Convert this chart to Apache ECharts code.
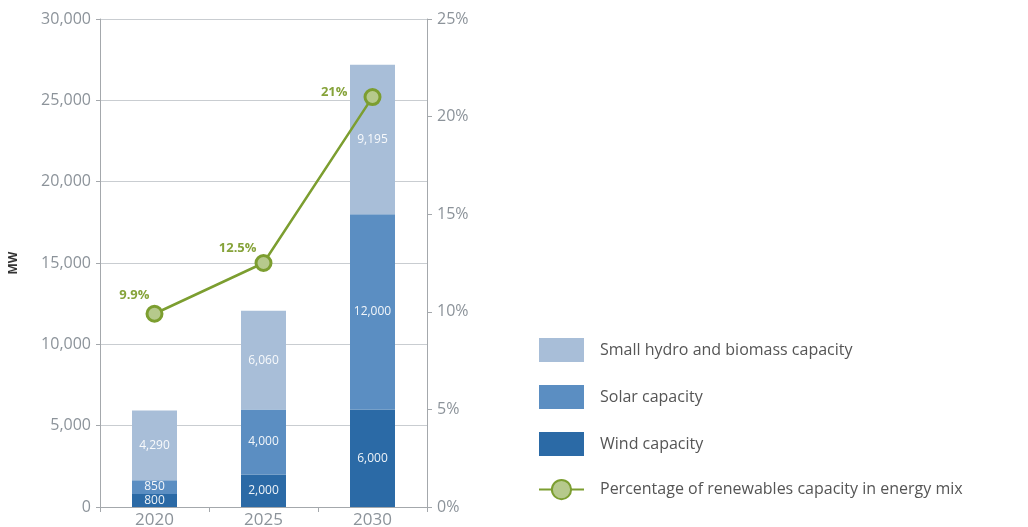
<!DOCTYPE html>
<html><head><meta charset="utf-8">
<script src="https://cdn.jsdelivr.net/npm/echarts@6/dist/echarts.min.js"></script>
<style>html,body{margin:0;padding:0;background:#fff}#c{width:1028px;height:527px}</style>
</head><body><div id="c"></div>
<script>
const years = ['2020', '2025', '2030'];
const wind = [800, 2000, 6000];
const solar = [850, 4000, 12000];
const hydro = [4290, 6060, 9195];
const renewablesPct = [9.9, 12.5, 21];
const pctLabels = ['9.9%', '12.5%', '21%'];
const leftTicks = [0, 5000, 10000, 15000, 20000, 25000, 30000];
const rightTicks = [0, 5, 10, 15, 20, 25];

const pctLabelOffsets = [[8, -18], [6, -15], [-12, -5]];

const font = '"Open Sans", Lato, sans-serif';
const axisGray = '#8c939a';
const chart = echarts.init(document.getElementById('c'));

function barSeries(name, data, color) {
  return {
    name, type: 'bar', stack: 'cap', data, barWidth: 45, yAxisIndex: 0,
    itemStyle: { color },
    label: { show: true, position: 'inside', color: 'rgba(255,255,255,0.92)', fontSize: 12, fontFamily: font,
      formatter: p => p.value.toLocaleString('en-US') }
  };
}

chart.setOption({
  animation: false,
  textStyle: { fontFamily: font },
  grid: { left: 100, right: 601, top: 19, bottom: 20, containLabel: false, outerBoundsMode: 'none' },
  legend: {
    orient: 'vertical', left: 533, top: 333, itemWidth: 45, itemHeight: 24, itemGap: 23,
    data: [
      { name: 'Small hydro and biomass capacity', icon: 'rect' },
      { name: 'Solar capacity', icon: 'rect' },
      { name: 'Wind capacity', icon: 'rect' },
      { name: 'Percentage of renewables capacity in energy mix' }
    ],
    textStyle: { fontSize: 16, color: '#555', fontFamily: font, padding: [0, 0, 0, 11] }
  },
  xAxis: {
    type: 'category', data: years,
    axisLine: { lineStyle: { color: '#a4a8ac', width: 1 } },
    axisTick: { show: true, alignWithLabel: false, length: 5, lineStyle: { color: '#a4a8ac' } },
    axisLabel: { color: axisGray, fontSize: 17, margin: 5, fontFamily: font }
  },
  yAxis: [{
    type: 'value', min: leftTicks[0], max: leftTicks[leftTicks.length - 1], interval: 5000,
    name: 'MW', nameLocation: 'middle', nameGap: 80, nameRotate: 90,
    nameTextStyle: { fontSize: 12, color: '#333', fontWeight: 'bold', fontFamily: font },
    axisLine: { show: true, lineStyle: { color: '#a4a8ac' } },
    axisTick: { show: true, length: 4, lineStyle: { color: '#a4a8ac' } },
    axisLabel: { color: axisGray, fontSize: 16, margin: 9, fontFamily: font,
      formatter: v => v.toLocaleString('en-US') },
    splitLine: { show: true, lineStyle: { color: '#c9cdd1', width: 1 } }
  }, {
    type: 'value', min: rightTicks[0], max: rightTicks[rightTicks.length - 1], interval: 5, position: 'right',
    axisLine: { show: true, lineStyle: { color: '#a4a8ac' } },
    axisTick: { show: true, length: 5, lineStyle: { color: '#a4a8ac' } },
    axisLabel: { color: axisGray, fontSize: 16, margin: 10, fontFamily: font, formatter: '{value}%' },
    splitLine: { show: false }
  }],
  series: [
    barSeries('Wind capacity', wind, '#2b6aa6'),
    barSeries('Solar capacity', solar, '#5b8ec2'),
    barSeries('Small hydro and biomass capacity', hydro, '#a8bed8'),
    {
      name: 'Percentage of renewables capacity in energy mix', type: 'line', yAxisIndex: 1, z: 10,
      data: renewablesPct.map((v, i) => ({ value: v, label: { offset: pctLabelOffsets[i] } })),
      symbol: 'circle', symbolSize: 15,
      lineStyle: { color: '#7c9e30', width: 2.5 },
      itemStyle: { color: '#b6c98c', borderColor: '#7c9e30', borderWidth: 3 },
      label: { show: true, position: 'left', distance: 4, color: '#86a33a', fontWeight: 'bold', fontSize: 13, fontFamily: font,
        formatter: p => pctLabels[p.dataIndex] }
    }
  ]
});
</script></body></html>
